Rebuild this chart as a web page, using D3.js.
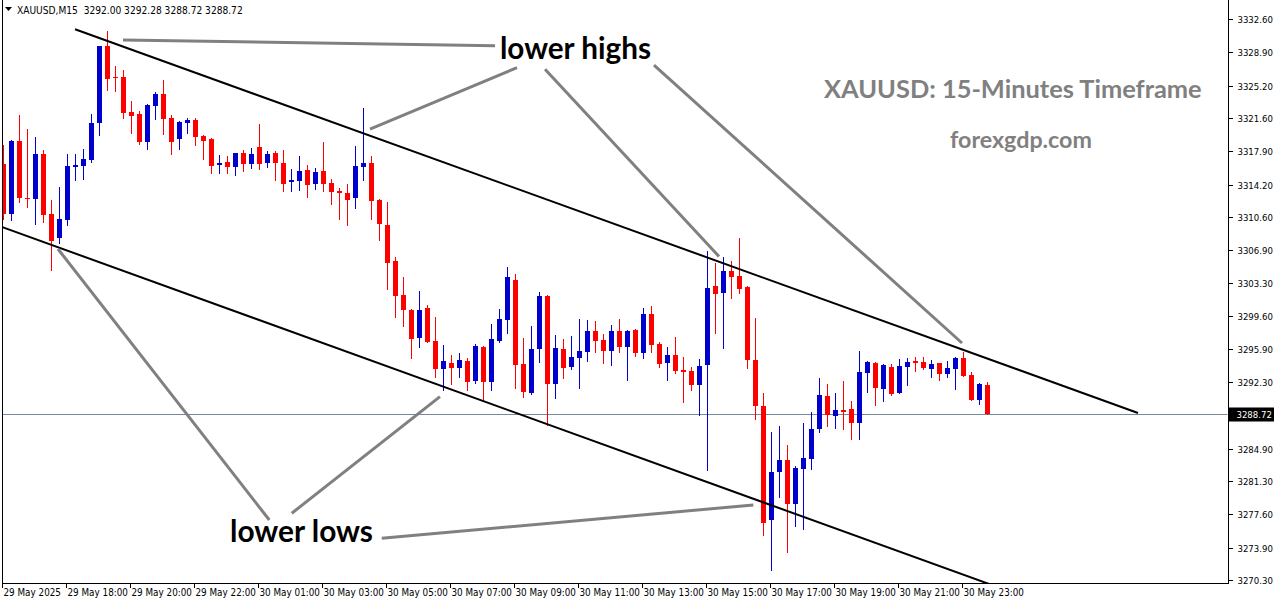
<!DOCTYPE html>
<html>
<head>
<meta charset="utf-8">
<script src="https://cdn.jsdelivr.net/npm/d3@7"></script>
<style>
  html,body{margin:0;padding:0;background:#fff;}
  svg{display:block;}
</style>
</head>
<body>
<svg id="chart" width="1276" height="604"></svg>
<script>
// ---------- DATA (XAUUSD M15, 29 May 16:00 -> 30 May 23:45) ----------
const opens = [3316.50,3310.95,3319.05,3312.72,3312.61,3317.61,3310.95,3308.31,3310.28,3316.20,
3316.31,3316.94,3321.08,3329.60,3326.16,3326.16,3322.27,3322.05,3318.94,3322.94,
3324.27,3321.61,3319.27,3321.05,3321.38,3319.64,3319.27,3316.42,3316.72,3316.16,
3317.72,3316.50,3318.39,3316.61,3317.72,3316.61,3314.50,3314.61,3315.83,3314.28,
3315.72,3314.39,3313.50,3313.28,3312.72,3316.16,3316.61,3312.50,3309.72,3305.73,
3301.95,3300.28,3297.18,3300.51,3296.84,3293.73,3294.40,3293.84,3294.62,3292.40,
3296.18,3292.29,3296.84,3299.17,3303.62,3294.29,3291.07,3295.95,3301.84,3292.07,
3295.95,3293.96,3294.95,3295.62,3297.95,3296.95,3295.73,3297.95,3296.18,3298.06,
3295.51,3299.84,3296.51,3294.40,3295.29,3293.62,3293.51,3291.96,3294.18,3302.95,
3302.17,3304.62,3304.06,3302.84,3294.73,3289.62,3276.96,3282.29,3283.63,3278.74,
3282.63,3283.74,3287.07,3290.73,3288.51,3289.18,3289.29,3287.74,3293.29,3294.40,
3291.51,3293.96,3291.07,3293.96,3294.62,3294.51,3293.73,3294.40,3293.18,3293.73,
3294.95,3293.07,3290.29,3292.00];
const highs = [3318.61,3319.16,3321.94,3320.42,3319.50,3318.05,3312.50,3313.98,3317.61,3317.61,
3318.16,3322.05,3329.65,3331.27,3327.38,3326.94,3323.49,3322.38,3323.16,3324.49,
3325.83,3321.94,3321.27,3321.61,3321.61,3319.75,3319.39,3317.50,3317.39,3317.72,
3318.05,3318.27,3320.94,3317.94,3317.94,3318.05,3315.94,3317.39,3316.39,3316.05,
3318.94,3314.83,3313.83,3314.28,3318.50,3322.72,3317.39,3312.60,3312.28,3306.17,
3303.95,3300.40,3302.39,3300.84,3299.51,3296.40,3295.29,3295.51,3294.95,3296.51,
3296.29,3298.73,3300.40,3305.06,3304.28,3297.18,3298.51,3302.28,3301.90,3297.51,
3297.06,3297.40,3299.29,3299.17,3299.06,3297.62,3298.62,3299.29,3298.06,3298.17,
3300.51,3300.73,3296.73,3296.18,3297.29,3295.07,3293.96,3294.84,3306.84,3305.50,
3306.17,3305.73,3308.28,3302.95,3299.40,3291.07,3286.74,3287.40,3285.29,3282.96,
3287.74,3288.96,3292.73,3292.07,3291.07,3292.40,3290.18,3295.73,3294.62,3294.51,
3294.29,3294.29,3294.84,3294.95,3295.07,3295.07,3294.73,3294.40,3294.62,3295.07,
3295.62,3293.40,3292.18,3292.28];
const lows = [3310.39,3310.28,3312.28,3311.76,3309.87,3310.09,3304.76,3307.76,3309.76,3314.72,
3314.87,3316.75,3319.72,3324.72,3324.60,3321.61,3319.94,3318.72,3318.16,3321.53,
3319.83,3317.61,3318.16,3319.94,3318.61,3317.05,3315.50,3315.50,3315.50,3315.28,
3315.72,3316.05,3315.94,3316.16,3314.72,3313.50,3313.50,3313.61,3312.83,3313.72,
3313.50,3312.06,3310.39,3309.72,3311.61,3314.72,3310.39,3308.06,3302.62,3299.51,
3298.51,3294.95,3296.18,3296.73,3292.84,3291.40,3292.07,3292.84,3291.40,3292.18,
3290.29,3291.40,3296.73,3297.73,3291.62,3290.62,3290.96,3294.51,3287.51,3290.51,
3292.73,3293.73,3291.62,3294.62,3295.62,3294.40,3294.18,3295.62,3292.51,3295.18,
3294.95,3295.62,3293.96,3292.51,3293.29,3290.07,3291.40,3288.62,3282.52,3297.73,
3296.06,3301.62,3302.17,3293.84,3288.18,3275.30,3271.41,3279.52,3273.41,3276.30,
3275.96,3282.63,3286.74,3287.40,3287.18,3287.07,3285.96,3285.96,3291.18,3289.73,
3290.18,3290.85,3291.07,3291.96,3293.51,3293.73,3292.84,3292.51,3292.84,3291.51,
3292.96,3290.29,3289.85,3288.72];
const closes = [3310.95,3319.05,3312.76,3312.64,3317.61,3310.83,3307.95,3310.39,3316.31,3316.39,
3317.05,3321.05,3329.60,3325.94,3326.05,3322.16,3321.83,3318.94,3323.05,3324.27,
3321.50,3318.97,3321.16,3321.38,3319.50,3319.05,3316.28,3316.61,3316.16,3317.72,
3316.50,3317.61,3316.50,3317.61,3316.61,3314.28,3314.72,3315.72,3314.17,3315.61,
3314.28,3313.39,3313.28,3312.50,3316.28,3316.61,3312.39,3309.83,3305.50,3301.84,
3300.28,3297.06,3300.28,3296.73,3293.73,3294.62,3293.84,3294.73,3292.29,3296.29,
3292.29,3297.06,3299.29,3303.95,3294.18,3291.18,3295.95,3301.84,3292.07,3296.06,
3293.84,3295.07,3295.73,3297.95,3296.84,3295.73,3297.95,3296.18,3297.95,3295.51,
3299.84,3296.40,3294.29,3295.29,3293.51,3293.40,3291.96,3294.07,3302.73,3302.06,
3304.62,3303.95,3302.62,3294.73,3289.62,3276.63,3282.29,3283.63,3278.74,3282.74,
3283.85,3287.07,3290.85,3288.62,3289.18,3288.96,3287.74,3293.40,3294.51,3291.62,
3294.18,3290.96,3294.07,3294.51,3294.40,3293.84,3294.29,3293.18,3293.84,3294.95,
3292.96,3290.29,3292.07,3288.72];

const yTickValues = [3332.60,3328.90,3325.20,3321.60,3317.90,3314.20,3310.60,3306.90,3303.30,
                     3299.60,3295.90,3292.30,3284.90,3281.30,3277.60,3273.90,3270.30];
const xTickLabels = ["29 May 2025","29 May 18:00","29 May 20:00","29 May 22:00","30 May 01:00",
  "30 May 03:00","30 May 05:00","30 May 07:00","30 May 09:00","30 May 11:00","30 May 13:00",
  "30 May 15:00","30 May 17:00","30 May 19:00","30 May 21:00","30 May 23:00"];
const xTickEvery = 8; // one label per 2 hours of M15 bars
const currentPrice = 3288.72;
const headerText = "XAUUSD,M15  3292.00 3292.28 3288.72 3288.72";

// channel trend lines: [bar index, price]
const upperChannel = [[8.94, 3331.46], [141.81, 3288.85]];
const lowerChannel = [[-0.40, 3309.57], [124.0, 3269.60]];
// annotation pointer lines: [bar index, price] pairs
const highPointers = [
  [[14.94, 3330.27], [61.44, 3329.63]],
  [[45.81, 3320.38], [64.19, 3327.19]],
  [[67.69, 3327.01], [89.44, 3306.23]],
  [[81.31, 3327.49], [119.81, 3296.62]]
];
const lowPointers = [
  [[6.81, 3307.06], [33.23, 3276.96]],
  [[36.03, 3277.71], [54.56, 3290.66]],
  [[47.28, 3274.93], [93.73, 3278.63]]
];

// ---------- LAYOUT ----------
const svg = d3.select("#chart");
const frame = {left: 2, right: 1228, top: 0, bottom: 583};
const n = closes.length;
const x = d3.scaleLinear().domain([0, n - 1]).range([3.5, 3.5 + 8 * (n - 1)]);
const y = d3.scaleLinear().domain([3270.30, 3332.60]).range([580, 19]);
const UP = "#0000cd", DOWN = "#ff0000";

svg.append("rect").attr("width", 1276).attr("height", 604).attr("fill", "#fff");

svg.append("defs").append("clipPath").attr("id", "plotClip")
  .append("rect").attr("x", frame.left + 0.5).attr("y", frame.top)
  .attr("width", frame.right - frame.left - 1).attr("height", frame.bottom - frame.top);

const plot = svg.append("g").attr("clip-path", "url(#plotClip)");

// current price line
plot.append("line")
  .attr("x1", frame.left).attr("x2", frame.right)
  .attr("y1", Math.round(y(currentPrice)) + 0.5).attr("y2", Math.round(y(currentPrice)) + 0.5)
  .attr("stroke", "#778899").attr("stroke-width", 1);

// candles
const bars = d3.range(n).map(i => ({i, o: opens[i], h: highs[i], l: lows[i], c: closes[i]}));
const cg = plot.append("g");
const px = i => Math.floor(x(i)) + 0.5;
cg.selectAll("line.wick").data(bars).join("line").attr("class", "wick")
  .attr("x1", d => px(d.i)).attr("x2", d => px(d.i))
  .attr("y1", d => Math.round(y(d.h))).attr("y2", d => Math.round(y(d.l)) + 1)
  .attr("stroke", d => d.c >= d.o ? UP : DOWN).attr("stroke-width", 1)
  .attr("shape-rendering", "crispEdges");
cg.selectAll("rect.body").data(bars).join("rect").attr("class", "body")
  .attr("x", d => px(d.i) - 2.5).attr("width", 5)
  .attr("y", d => Math.round(y(Math.max(d.o, d.c))))
  .attr("height", d => Math.max(1, Math.round(y(Math.min(d.o, d.c))) - Math.round(y(Math.max(d.o, d.c)))))
  .attr("fill", d => d.c >= d.o ? UP : DOWN)
  .attr("shape-rendering", "crispEdges");

// lines
const lineGen = d3.line().x(d => x(d[0])).y(d => y(d[1]));
[upperChannel, lowerChannel].forEach(pts => {
  plot.append("path").attr("d", lineGen(pts)).attr("fill", "none")
    .attr("stroke", "#000").attr("stroke-width", 2);
});
highPointers.concat(lowPointers).forEach(pts => {
  plot.append("path").attr("d", lineGen(pts)).attr("fill", "none")
    .attr("stroke", "#808080").attr("stroke-width", 3);
});

// frame
svg.append("path")
  .attr("d", `M${frame.left + 0.5},${frame.top} V${frame.bottom + 0.5} H${frame.right + 0.5} V${frame.top}`)
  .attr("fill", "none").attr("stroke", "#000").attr("stroke-width", 1)
  .attr("shape-rendering", "crispEdges");

const axisFont = "'DejaVu Sans Condensed', 'Liberation Sans', Arial, sans-serif";

// y axis
const yAxis = svg.append("g").attr("transform", `translate(${frame.right + 0.5},0)`)
  .call(d3.axisRight(y).tickValues(yTickValues).tickSize(4).tickPadding(5).tickFormat(d3.format(".2f")));
yAxis.select(".domain").remove();
yAxis.selectAll("line").attr("stroke", "#000").attr("shape-rendering", "crispEdges");
yAxis.selectAll("text").attr("font-family", axisFont).attr("font-size", 9.5).attr("fill", "#000");
yAxis.selectAll(".tick").attr("transform", d => `translate(0,${Math.round(y(d)) + 0.5})`);

// current price label
const cpy = Math.round(y(currentPrice)) + 0.5;
svg.append("rect").attr("x", frame.right + 1).attr("y", cpy - 7).attr("width", 45).attr("height", 14).attr("fill", "#000");
svg.append("text").attr("x", frame.right + 8.5).attr("y", cpy).attr("dy", "0.35em")
  .attr("font-family", axisFont).attr("font-size", 9.5).attr("fill", "#fff")
  .text(d3.format(".2f")(currentPrice));

// x axis
const xTickIdx = xTickLabels.map((_, j) => j * xTickEvery);
const xAxis = svg.append("g").attr("transform", `translate(-2,${frame.bottom + 0.5})`)
  .call(d3.axisBottom(x).tickValues(xTickIdx).tickSize(4).tickPadding(2)
    .tickFormat((d, j) => xTickLabels[j]));
xAxis.select(".domain").remove();
xAxis.selectAll("line").attr("stroke", "#000").attr("shape-rendering", "crispEdges");
xAxis.selectAll("text").attr("font-family", axisFont).attr("font-size", 9.8).attr("fill", "#000")
  .attr("text-anchor", "start").attr("dx", 1.5);

// header
svg.append("path").attr("d", "M5,7 L12,7 L8.5,11 Z").attr("fill", "#000");
const hdr = svg.append("text").attr("x", 17).attr("y", 14).attr("font-family", axisFont)
  .attr("font-size", 10.5).attr("fill", "#000").attr("xml:space", "preserve").text(headerText);

// fit text helper
function fitText(sel, targetW) {
  const w = sel.node().getComputedTextLength();
  const fs = parseFloat(sel.attr("font-size"));
  sel.attr("font-size", fs * targetW / w);
}
fitText(hdr, 226);
const annFont = "Lato, 'Open Sans', sans-serif";
const t1 = svg.append("text").attr("x", 500).attr("y", 59).attr("font-family", annFont)
  .attr("font-weight", 700).attr("font-size", 28).attr("fill", "#000").text("lower highs");
fitText(t1, 151);
const t2 = svg.append("text").attr("x", 230).attr("y", 542).attr("font-family", annFont)
  .attr("font-weight", 700).attr("font-size", 28).attr("fill", "#000").text("lower lows");
fitText(t2, 143);
const t3 = svg.append("text").attr("x", 824).attr("y", 98).attr("font-family", annFont)
  .attr("font-weight", 700).attr("font-size", 22).attr("fill", "#808080").text("XAUUSD: 15-Minutes Timeframe");
fitText(t3, 378);
const t4 = svg.append("text").attr("x", 950).attr("y", 148).attr("font-family", annFont)
  .attr("font-weight", 700).attr("font-size", 20).attr("fill", "#808080").text("forexgdp.com");
fitText(t4, 142);
</script>
</body>
</html>
